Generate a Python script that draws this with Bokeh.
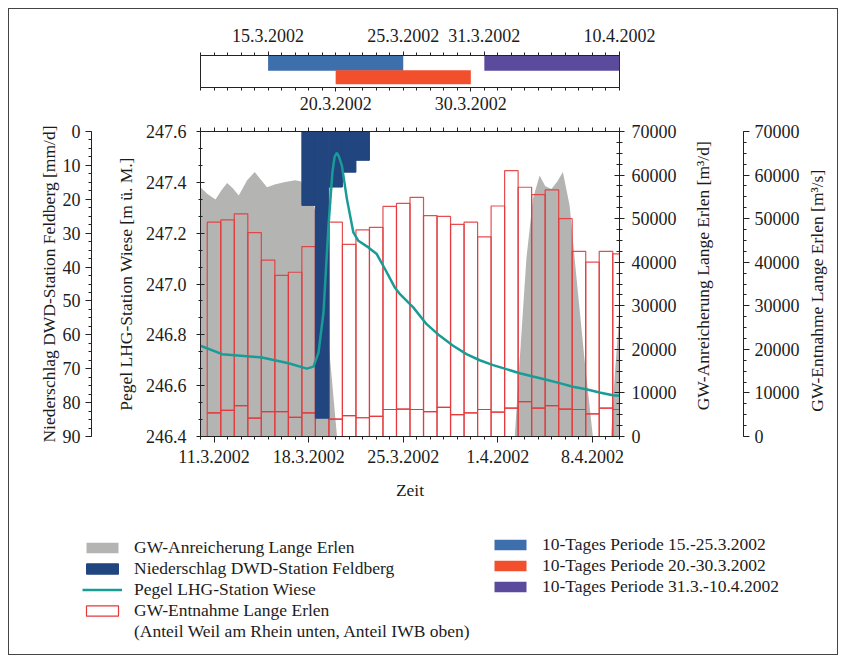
import math
from bokeh.plotting import figure
from bokeh.models import (Range1d, LinearAxis, FixedTicker, SingleIntervalTicker,
                          Legend, LegendItem, PrintfTickFormatter)
from bokeh.layouts import column
from bokeh.embed import file_html
from bokeh.resources import INLINE

# ---------------- data (x = days since 10.3.2002) ----------------
datum_ticks = [1, 8, 15, 22, 29]
datum_labels = ["11.3.2002", "18.3.2002", "25.3.2002", "1.4.2002", "8.4.2002"]

# daily values 11.3. ... 10.4.2002
tage = list(range(1, 32))
entnahme_gesamt = [49200, 49700, 51100, 46800, 40500, 37000, 37700, 43600, 52000, 49200,
                   44100, 47400, 48000, 52800, 53500, 54900, 50700, 50500, 48700, 49200,
                   45800, 52900, 61000, 57200, 55500, 56600, 50000, 42500, 40000, 42500, 41900]
entnahme_weil = [5400, 6000, 7100, 4200, 5700, 5700, 4400, 5400, 7900, 4000,
                 4800, 4300, 4600, 6200, 6300, 6200, 5700, 6700, 5000, 5400,
                 6200, 5600, 6500, 8000, 6500, 7100, 6300, 6200, 5200, 6500, 6200]

nied_tage = [8, 9, 10, 11, 12]          # 18.3. - 22.3.2002
niederschlag = [21.8, 84.6, 16.4, 12.0, 8.5]

anr_tag = [0.0, 0.49, 1.11, 1.55, 1.97, 2.39, 2.83, 3.45, 4.01, 4.50, 4.92, 5.54, 6.27,
           7.01, 7.45, 8.45, 9.35, 10.1, 23.25, 23.62, 24.11, 24.60, 25.09, 25.50, 25.96,
           26.40, 26.81, 27.31, 27.80, 28.41, 29.03, 30.38, 30.63, 31.0]
anr_wert = [57200, 55700, 54400, 56500, 58200, 57000, 55300, 58800, 60700, 58800, 57200,
            57900, 58400, 58800, 58500, 52500, 26000, 0, 0, 17800, 40800, 54600, 59900,
            57500, 56800, 58500, 60700, 53000, 37000, 17800, 0, 0, 13200, 28500]

pegel_tag = [0.0, 1.60, 4.55, 6.52, 7.87, 8.36, 8.73, 9.10, 9.47, 9.76, 9.92, 10.09, 10.25,
             10.46, 10.83, 11.31, 11.68, 12.42, 13.04, 13.65, 14.39, 14.76, 15.74, 16.73,
             17.71, 18.69, 19.68, 20.66, 21.65, 22.63, 23.62, 24.60, 25.59, 26.57, 27.55,
             28.54, 29.52, 30.50, 31.0]
pegel_wert = [246.757, 246.724, 246.711, 246.688, 246.667, 246.675, 246.730, 246.888,
              247.230, 247.440, 247.500, 247.516, 247.500, 247.466, 247.335, 247.203,
              247.170, 247.144, 247.118, 247.059, 246.985, 246.960, 246.908, 246.842,
              246.796, 246.757, 246.724, 246.700, 246.681, 246.665, 246.649, 246.636,
              246.623, 246.610, 246.596, 246.586, 246.573, 246.562, 246.560]

perioden_start = [5, 10, 21]
perioden_ende = [15, 20, 31]
perioden_label = ["10-Tages Periode 15.-25.3.2002", "10-Tages Periode 20.-30.3.2002",
                  "10-Tages Periode 31.3.-10.4.2002"]
oben_ticks = [5, 15, 21, 31]
oben_labels = ["15.3.2002", "25.3.2002", "31.3.2002", "10.4.2002"]
unten_ticks = [10, 20]
unten_labels = ["20.3.2002", "30.3.2002"]
tag_minor = list(range(0, 32))

titel_anr = "GW-Anreicherung Lange Erlen [m³/d]"
titel_ent = "GW-Entnahme Lange Erlen [m³/s]"

# ---------------- styles ----------------
FONT = "Liberation Serif"
TXT = "#1c1c1c"
AX = "#222222"
GRAY = "#b4b5b3"
NAVY = "#21457e"
TEAL = "#1a9c96"
RED = "#e33a3c"
P_COLORS = ["#3e6fad", "#f2502c", "#5a4b9c"]
TICK_FS = "18px"
LAB_FS = "17.5px"


def style_axis(ax):
    ax.major_label_text_font = FONT
    ax.major_label_text_font_size = TICK_FS
    ax.major_label_text_color = TXT
    ax.axis_label_text_font = FONT
    ax.axis_label_text_font_size = LAB_FS
    ax.axis_label_text_font_style = "normal"
    ax.axis_label_text_color = TXT
    ax.axis_line_color = AX
    ax.major_tick_line_color = AX
    ax.minor_tick_line_color = AX


def spacer(width, **kw):
    # invisible axis used only to reserve room between stacked axes
    return LinearAxis(ticker=FixedTicker(ticks=[]), major_tick_out=0, major_tick_in=0,
                      minor_tick_out=0, minor_tick_in=0, axis_line_color=None,
                      major_tick_line_color=None, minor_tick_line_color=None,
                      axis_label="|", axis_label_text_alpha=0,
                      axis_label_text_font_size="1px", axis_label_standoff=width, **kw)


def title_axis(text, at, standoff):
    # axis title reading upwards, drawn as the single label of a bare axis
    a = LinearAxis(y_range_name="gw", ticker=FixedTicker(ticks=[at]),
                   major_label_overrides={at: text}, major_label_orientation=math.pi / 2,
                   major_tick_out=0, major_tick_in=0, minor_tick_out=0, minor_tick_in=0,
                   axis_line_color=None, major_tick_line_color=None,
                   minor_tick_line_color=None, major_label_standoff=standoff)
    a.major_label_text_font = FONT
    a.major_label_text_font_size = LAB_FS
    a.major_label_text_color = TXT
    return a


# ---------------- top period bar ----------------
t = figure(width=846, height=112, x_range=Range1d(0, 31), y_range=Range1d(0, 2),
           output_backend="svg", toolbar_location=None, y_axis_location=None,
           min_border_left=198, min_border_right=227, min_border_top=55, min_border_bottom=25)
t.grid.visible = False
t.outline_line_color = AX
t.border_fill_alpha = 0
t.quad(left=perioden_start, right=perioden_ende, bottom=[1.05, 0.2, 1.05],
       top=[2.0, 1.08, 1.98], fill_color=P_COLORS, line_color=None)
bx = t.xaxis[0]
style_axis(bx)
bx.ticker = FixedTicker(ticks=unten_ticks, minor_ticks=tag_minor)
bx.major_label_overrides = dict(zip(unten_ticks, unten_labels))
bx.major_tick_out = 4
bx.major_tick_in = 0
bx.minor_tick_out = 3
bx.minor_tick_in = 0
bx.major_label_standoff = 5
ax_top = LinearAxis(ticker=FixedTicker(ticks=oben_ticks, minor_ticks=tag_minor))
style_axis(ax_top)
ax_top.major_label_overrides = dict(zip(oben_ticks, oben_labels))
ax_top.major_tick_out = 4
ax_top.major_tick_in = 0
ax_top.minor_tick_out = 3
ax_top.minor_tick_in = 0
ax_top.major_label_standoff = 10
t.add_layout(ax_top, "above")

# ---------------- main chart ----------------
p = figure(width=846, height=408, x_range=Range1d(0, 31), y_range=Range1d(246.4, 247.6001),
           output_backend="svg", toolbar_location=None,
           min_border_left=200, min_border_right=226, min_border_top=19, min_border_bottom=84)
p.extra_y_ranges = {"nied": Range1d(90, 0), "gw": Range1d(0, 70000)}
p.grid.visible = False
p.outline_line_color = AX
p.border_fill_alpha = 0

p.varea(x=anr_tag, y1=0, y2=anr_wert, y_range_name="gw", fill_color=GRAY)
p.vbar(x=tage, width=1, bottom=0, top=entnahme_weil, y_range_name="gw",
       fill_alpha=0, line_color=RED, line_width=1.2, line_alpha=0.9)
p.vbar(x=tage, width=1, bottom=entnahme_weil, top=entnahme_gesamt, y_range_name="gw",
       fill_alpha=0, line_color=RED, line_width=1.2, line_alpha=0.9)
p.vbar(x=nied_tage, width=1, top=0, bottom=niederschlag, y_range_name="nied",
       fill_color=NAVY, line_color=NAVY)
p.line(x=pegel_tag, y=pegel_wert, line_color=TEAL, line_width=2.5)

# bottom axis
xa = p.xaxis[0]
style_axis(xa)
xa.ticker = FixedTicker(ticks=datum_ticks, minor_ticks=tag_minor)
xa.major_label_overrides = dict(zip(datum_ticks, datum_labels))
xa.major_tick_out = 6
xa.major_tick_in = 0
xa.minor_tick_out = 3
xa.minor_tick_in = 0
xa.major_label_standoff = 7
xa.axis_label = "Zeit"
xa.axis_label_standoff = 14

# top ticks
xt = LinearAxis(ticker=FixedTicker(ticks=[], minor_ticks=tag_minor))
style_axis(xt)
xt.major_tick_out = 0
xt.minor_tick_out = 4
xt.minor_tick_in = 0
p.add_layout(xt, "above")

# left: Pegel
ya = p.yaxis[0]
style_axis(ya)
ya.ticker = SingleIntervalTicker(interval=0.2, num_minor_ticks=3)
ya.formatter = PrintfTickFormatter(format="%.1f")
ya.axis_label = "Pegel LHG-Station Wiese [m ü. M.]"
ya.major_tick_in = 4
ya.major_tick_out = 4
ya.minor_tick_in = 2
ya.minor_tick_out = 2
ya.major_label_standoff = 10
ya.axis_label_standoff = 7
p.add_layout(spacer(17), "left")

ny = LinearAxis(y_range_name="nied", ticker=SingleIntervalTicker(interval=10, num_minor_ticks=4))
style_axis(ny)
ny.axis_label = "Niederschlag DWD-Station Feldberg [mm/d]"
ny.major_tick_out = 6
ny.major_tick_in = 0
ny.minor_tick_out = 3
ny.minor_tick_in = 0
ny.major_label_standoff = 5
ny.axis_label_standoff = 1
p.add_layout(ny, "left")

# right: GW-Anreicherung, GW-Entnahme
ga = LinearAxis(y_range_name="gw", ticker=SingleIntervalTicker(interval=10000, num_minor_ticks=4))
style_axis(ga)
ga.major_tick_in = 5
ga.major_tick_out = 5
ga.minor_tick_in = 3
ga.minor_tick_out = 3
ga.major_label_standoff = 7
p.add_layout(ga, "right")
p.add_layout(title_axis(titel_anr, 6000, 24), "right")
p.add_layout(spacer(13, y_range_name="gw"), "right")

ge = LinearAxis(y_range_name="gw", ticker=SingleIntervalTicker(interval=10000, num_minor_ticks=4))
style_axis(ge)
ge.major_tick_in = 0
ge.major_tick_out = 6
ge.minor_tick_in = 0
ge.minor_tick_out = 3
ge.major_label_standoff = 5
p.add_layout(ge, "right")
p.add_layout(title_axis(titel_ent, 5700, 15), "right")

# ---------------- legend panel ----------------
lgf = figure(width=846, height=143, x_range=Range1d(-100, -99), y_range=Range1d(-100, -99),
             output_backend="svg", toolbar_location=None, x_axis_location=None,
             y_axis_location=None, min_border_left=0, min_border_right=0,
             min_border_top=0, min_border_bottom=0)
lgf.grid.visible = False
lgf.outline_line_color = None
lgf.border_fill_alpha = 0
lgf.background_fill_alpha = 0
nested = False
try:
    lgf.frame_align = False
except Exception:
    nested = True

# hidden renderers (same data) that only provide the legend swatches
r_anr = lgf.varea(x=anr_tag, y1=0, y2=anr_wert, fill_color=GRAY, visible=False)
r_nied = lgf.vbar(x=nied_tage, width=1, top=0, bottom=niederschlag, fill_color=NAVY,
                  line_color=NAVY, visible=False)
r_peg = lgf.line(x=pegel_tag, y=pegel_wert, line_color=TEAL, line_width=2.5, visible=False)
r_ent = lgf.vbar(x=tage, width=1, bottom=0, top=entnahme_weil, fill_color="white",
                 line_color=RED, line_width=1.2, visible=False)
r_blank = lgf.line(x=pegel_tag, y=pegel_wert, line_alpha=0, visible=False)
r_per = [lgf.quad(left=[s], right=[e], bottom=0, top=1, fill_color=c, line_color=None,
                  visible=False)
         for s, e, c in zip(perioden_start, perioden_ende, P_COLORS)]


def make_legend(items, loc):
    lg = Legend(items=items, location=loc, orientation="vertical")
    lg.border_line_alpha = 0
    lg.background_fill_alpha = 0
    lg.padding = 0
    lg.margin = 0
    lg.spacing = 0
    lg.glyph_width = 40
    lg.glyph_height = 13
    lg.label_height = 18
    lg.label_standoff = 12
    lg.label_text_font = FONT
    lg.label_text_font_size = LAB_FS
    lg.label_text_color = TXT
    lg.inactive_fill_alpha = 0
    return lg


leg_l = make_legend([
    LegendItem(label="GW-Anreicherung Lange Erlen", renderers=[r_anr]),
    LegendItem(label="Niederschlag DWD-Station Feldberg", renderers=[r_nied]),
    LegendItem(label="Pegel LHG-Station Wiese", renderers=[r_peg]),
    LegendItem(label="GW-Entnahme Lange Erlen", renderers=[r_ent]),
    LegendItem(label="(Anteil Weil am Rhein unten, Anteil IWB oben)", renderers=[r_blank]),
], (82, 21))
leg_r = make_legend([LegendItem(label=lab, renderers=[r]) for lab, r in zip(perioden_label, r_per)],
                    (490, 66))
lgf.add_layout(leg_l)
lgf.add_layout(leg_r)

box = {"outline": "1px solid #444", "outline-offset": "-9px"}
if nested:
    layout = column(column(t, p), lgf, styles=box)
else:
    layout = column(t, p, lgf, styles=box)
open("out.html", "w").write(file_html(layout, INLINE))
